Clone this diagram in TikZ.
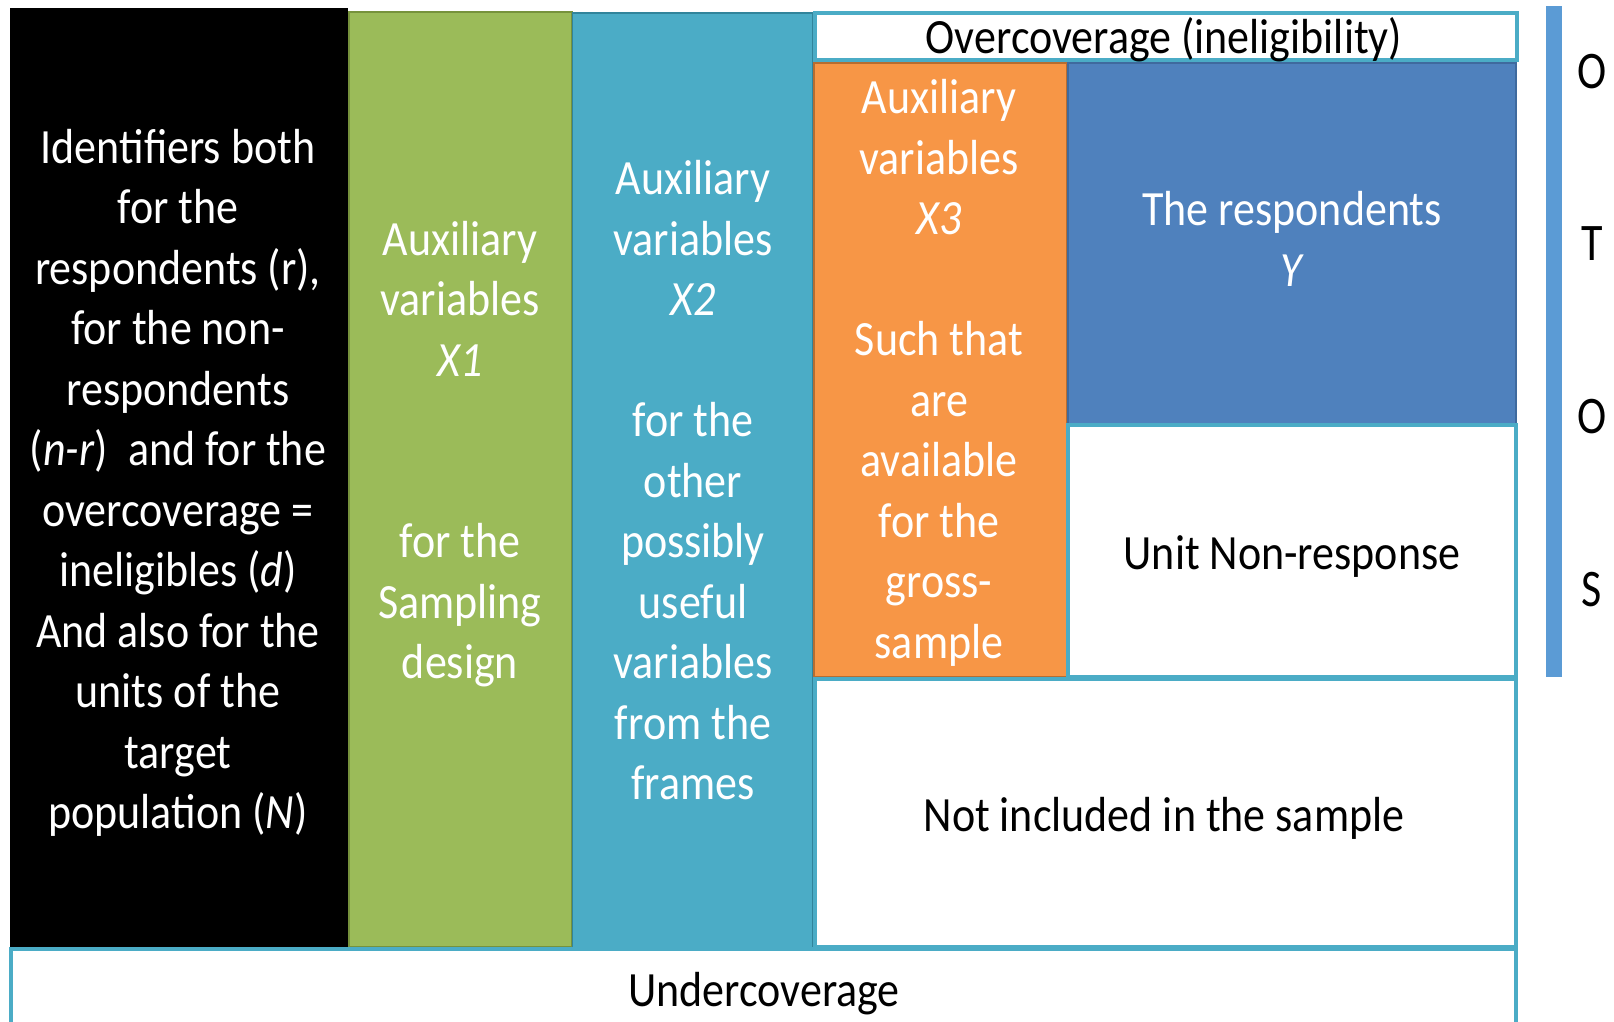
\documentclass[tikz,border=0pt]{standalone}
\usepackage{fontspec}
\setmainfont{Carlito}
\usepackage{graphicx}
\definecolor{cgreen}{HTML}{9BBB59}
\definecolor{cgreenb}{HTML}{76923C}
\definecolor{cteal}{HTML}{4BACC6}
\definecolor{ctealb}{HTML}{31849B}
\definecolor{corange}{HTML}{F79646}
\definecolor{corangeb}{HTML}{B66D31}
\definecolor{cblue}{HTML}{4F81BD}
\definecolor{cblueb}{HTML}{3F6A9E}
\definecolor{cbar}{HTML}{5B9BD5}
\newcommand{\mytxt}[1]{\scalebox{1}[1.12]{\begin{tabular}{@{}c@{}}#1\end{tabular}}}
\begin{document}
\begin{tikzpicture}[x=1pt,y=-1pt,
  wbox/.style={draw=cteal, line width=3.5pt, fill=white},
  lbl/.style={inner sep=0pt, font=\fontsize{44}{54}\selectfont, text=white},
  dlbl/.style={lbl, text=black},
  side/.style={inner sep=0pt, font=\fontsize{44}{54}\selectfont, text=black}]
\useasboundingbox (0,0) rectangle (1614,1022);
\clip (0,0) rectangle (1614,1022);
\fill[white] (0,0) rectangle (1614,1022);
% columns
\fill[black] (10,8) rectangle (348,947);
\path[fill=cgreen, draw=cgreenb, line width=2.5pt] (349,12) rectangle (572,947);
\path[fill=cteal, draw=ctealb, line width=2.5pt] (573,13) rectangle (813,949);
\fill[cteal] (573,14.5) rectangle (811.5,949);
% right part
\path[wbox] (815,13) rectangle (1517,60);
\path[fill=corange, draw=corangeb, line width=2.5pt] (814,63) rectangle (1067,677);
\path[fill=cblue, draw=cblueb, line width=2pt] (1068,63) rectangle (1516,424);
\path[wbox] (1068,425) rectangle (1516,677);
\path[wbox] (815,679) rectangle (1516,947);
\path[wbox] (11,949) rectangle (1516,1040);
% right bar
\fill[cbar] (1546,6) rectangle (1562,677);
% texts
\node[lbl] (ident) at (178,484) {\mytxt{Identifiers both\\for the\\respondents (r),\\for the non-\\respondents\\(\textit{n-r})~ and for the\\overcoverage =\\ineligibles (\textit{d})\\And also for the\\units of the\\target\\population (\textit{N})}};
\node[lbl] (xone) at (460,455) {\mytxt{Auxiliary\\variables\\\textit{X1}\\ \\ \\for the\\Sampling\\design}};
\node[lbl] (xtwo) at (693,485) {\mytxt{Auxiliary\\variables\\\textit{X2}\\ \\for the\\other\\possibly\\useful\\variables\\from the\\frames}};
\node[lbl] (xthree) at (939,374) {\mytxt{Auxiliary\\variables\\\textit{X3}\\ \\Such that\\are\\available\\for the\\gross-\\sample}};
\node[lbl] (resp) at (1292,244) {\mytxt{The respondents\\\textit{Y}}};
\node[dlbl] (unr) at (1292,557) {\mytxt{Unit Non-response}};
\node[dlbl] (notinc) at (1164,819) {\mytxt{Not included in the sample}};
\node[dlbl] (over) at (1164,41) {\mytxt{Overcoverage (ineligibility)}};
\node[dlbl] (under) at (764,994) {\mytxt{Undercoverage}};
\node[side] (o1) at (1592,72) {\scalebox{1}[1.2]{O}};
\node[side] (t1) at (1592,244) {\scalebox{1}[1.2]{T}};
\node[side] (o2) at (1592,417) {\scalebox{1}[1.2]{O}};
\node[side] (s1) at (1592,590) {\scalebox{1}[1.2]{S}};
\end{tikzpicture}
\end{document}
